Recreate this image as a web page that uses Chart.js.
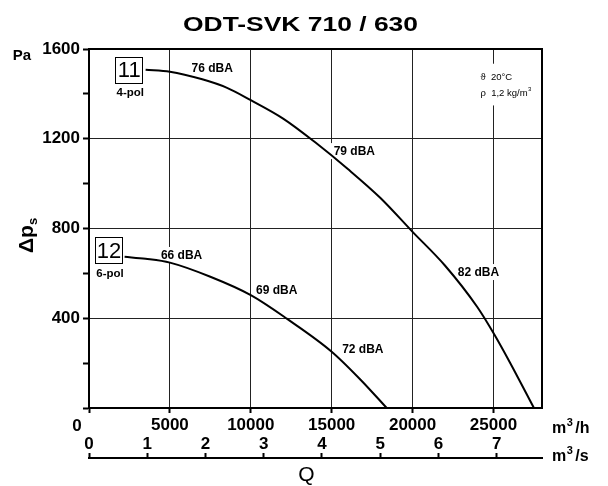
<!DOCTYPE html>
<html>
<head>
<meta charset="utf-8">
<script src="https://cdn.jsdelivr.net/npm/chart.js@4.4.1/dist/chart.umd.min.js"></script>
<style>
html,body{margin:0;padding:0;background:#fff;}
canvas{display:block;}
</style>
</head>
<body>
<canvas id="c" width="608" height="486"></canvas>
<script>
// ---- data ----
const titleText = 'ODT-SVK 710 / 630';
const q11 = [3500, 5000, 7000, 8500, 10000, 12000, 14000, 16000, 18000, 20000, 22000, 24000, 25000, 26000, 27500];
const p11 = [1508, 1499, 1465, 1428, 1372, 1290, 1183, 1065, 937, 785, 635, 450, 334, 205, 0];
const q12 = [2200, 3500, 5000, 7500, 10000, 12250, 15000, 16800, 18400];
const p12 = [674, 665, 648, 585, 503, 397, 251, 125, 0];
const xTickValues = [0, 5000, 10000, 15000, 20000, 25000];
const xsTickValues = [0, 1, 2, 3, 4, 5, 6, 7];
const yTickValues = [0, 200, 400, 600, 800, 1000, 1200, 1400, 1600];
const yLabelValues = [400, 800, 1200, 1600];
const dbaText = ['76 dBA', '79 dBA', '82 dBA', '66 dBA', '69 dBA', '72 dBA'];
const dbaQ = [7611, 16399, 24072, 5724, 11603, 16924];
const dbaP = [1515, 1145, 606, 682, 526, 263];
const curveTag = ['11', '12'];
const curvePole = ['4-pol', '6-pol'];
const curveTagQ = [2488, 1238];
const curveTagP = [1506, 702];
const noteLines = ['ϑ  20°C', 'ρ  1,2 kg/m'];
const noteQ = 24196;
const noteP = [1472, 1402];
const qMax = 28000;
const pMax = 1600;

const F = "'Liberation Sans', Arial, Helvetica, sans-serif";

const decor = {
  id: 'decor',
  beforeDatasetsDraw(chart) {
    const {ctx, scales} = chart;
    const x = scales.x, y = scales.y;
    ctx.save();
    // dBA labels with white background
    ctx.font = 'bold 12px ' + F;
    ctx.textAlign = 'center';
    ctx.textBaseline = 'middle';
    dbaText.forEach((t, i) => {
      const px = x.getPixelForValue(dbaQ[i]);
      const py = y.getPixelForValue(dbaP[i]);
      const w = ctx.measureText(t).width;
      ctx.fillStyle = '#fff';
      ctx.fillRect(px - w / 2 - 3, py - 8, w + 6, 16);
      ctx.fillStyle = '#000';
      ctx.fillText(t, px, py + 0.5);
    });
    // note box
    const nx = x.getPixelForValue(noteQ);
    const ny1 = y.getPixelForValue(noteP[0]);
    const ny2 = y.getPixelForValue(noteP[1]);
    ctx.fillStyle = '#fff';
    ctx.fillRect(nx - 6, ny1 - 14, 62, ny2 - ny1 + 26);
    ctx.fillStyle = '#000';
    ctx.textAlign = 'left';
    ctx.font = '9.5px ' + F;
    ctx.fillText(noteLines[0], nx, ny1);
    ctx.fillText(noteLines[1], nx, ny2);
    const w2 = ctx.measureText(noteLines[1]).width;
    ctx.font = '6px ' + F;
    ctx.fillText('3', nx + w2 + 0.5, ny2 - 4);
    // curve tags
    curveTag.forEach((t, i) => {
      const cx = x.getPixelForValue(curveTagQ[i]);
      const cy = y.getPixelForValue(curveTagP[i]);
      ctx.fillStyle = '#fff';
      ctx.fillRect(cx - 14, cy - 13.5, 28, 27);
      ctx.strokeStyle = '#000';
      ctx.lineWidth = 1;
      ctx.strokeRect(Math.round(cx - 14) + 0.5, Math.round(cy - 13.5) + 0.5, 27, 26);
      ctx.fillStyle = '#000';
      ctx.font = '22px ' + F;
      ctx.textAlign = 'center';
      ctx.textBaseline = 'middle';
      ctx.fillText(t, cx, cy + 1);
      ctx.font = 'bold 11.5px ' + F;
      ctx.fillText(curvePole[i], cx + 1, cy + 23);
    });
    // top and right frame
    const a = chart.chartArea;
    ctx.strokeStyle = '#000';
    ctx.lineWidth = 2;
    ctx.beginPath();
    ctx.moveTo(a.left - 1, a.top);
    ctx.lineTo(a.right, a.top);
    ctx.lineTo(a.right, a.bottom);
    ctx.stroke();
    ctx.restore();
  },
  afterDraw(chart) {
    const {ctx, scales} = chart;
    const x = scales.x, xs = scales.xs, y = scales.y;
    ctx.save();
    ctx.fillStyle = '#000';
    // title
    ctx.font = 'bold 21px ' + F;
    ctx.textAlign = 'center';
    ctx.textBaseline = 'middle';
    const tw = ctx.measureText(titleText).width;
    const sx = 235 / tw;
    ctx.save();
    ctx.translate(300.5, 25);
    ctx.scale(sx, 1);
    ctx.fillText(titleText, 0, 0);
    ctx.restore();
    // Pa
    ctx.font = 'bold 15px ' + F;
    ctx.fillText('Pa', 22, y.getPixelForValue(pMax) + 7);
    // x "0" label (shifted left)
    ctx.font = 'bold 17px ' + F;
    ctx.fillText('0', x.getPixelForValue(0) - 12, 426);
    // delta p_s
    ctx.save();
    ctx.translate(33, 253);
    ctx.rotate(-Math.PI / 2);
    ctx.textAlign = 'left';
    ctx.textBaseline = 'alphabetic';
    ctx.font = 'bold 21px ' + F;
    ctx.fillText('Δp', 0, 0);
    const dw = ctx.measureText('Δp').width;
    ctx.font = 'bold 13px ' + F;
    ctx.fillText('s', dw, 4);
    ctx.restore();
    // units
    function unit(px, base, tail) {
      ctx.textAlign = 'left';
      ctx.textBaseline = 'alphabetic';
      ctx.font = 'bold 16px ' + F;
      ctx.fillText('m', px, base);
      let w = ctx.measureText('m').width;
      ctx.font = 'bold 11px ' + F;
      ctx.fillText('3', px + w + 0.5, base - 7);
      w += ctx.measureText('3').width + 3;
      ctx.font = 'bold 16px ' + F;
      ctx.fillText(tail, px + w, base);
    }
    unit(x.right + 10, 433, '/h');
    unit(xs.right + 10, 461, '/s');
    // Q
    ctx.font = '21px ' + F;
    ctx.textAlign = 'center';
    ctx.textBaseline = 'middle';
    ctx.fillText('Q', 306.5, 475);
    ctx.restore();
  }
};

const ds = (qs, ps) => qs.map((q, i) => ({x: q, y: ps[i]}));

new Chart(document.getElementById('c'), {
  type: 'scatter',
  data: {
    datasets: [
      {label: '11', data: ds(q11, p11), showLine: true, borderColor: '#000', borderWidth: 2, pointRadius: 0, cubicInterpolationMode: 'monotone', xAxisID: 'x', yAxisID: 'y'},
      {label: '12', data: ds(q12, p12), showLine: true, borderColor: '#000', borderWidth: 2, pointRadius: 0, cubicInterpolationMode: 'monotone', xAxisID: 'x', yAxisID: 'y'}
    ]
  },
  options: {
    responsive: false,
    animation: false,
    devicePixelRatio: 1,
    layout: {padding: {top: 49, right: 66, bottom: 0, left: 0}},
    plugins: {legend: {display: false}, title: {display: false}, tooltip: {enabled: false}},
    scales: {
      x: {
        type: 'linear', axis: 'x', position: 'bottom', weight: 0,
        min: 0, max: qMax,
        afterBuildTicks: s => { s.ticks = xTickValues.map(v => ({value: v})); },
        afterFit: s => { s.height = 50; },
        grid: {
          color: c => (c.tick && c.tick.value > 0) ? '#222' : 'rgba(0,0,0,0)',
          lineWidth: 1, drawTicks: true, tickLength: 5, tickColor: '#000', tickWidth: 2
        },
        border: {display: true, color: '#000', width: 2},
        ticks: {
          callback: v => v === 0 ? '' : String(v),
          font: {family: F, size: 17, weight: 'bold'}, color: '#000',
          padding: 2, maxRotation: 0, minRotation: 0, autoSkip: false
        }
      },
      xs: {
        type: 'linear', axis: 'x', position: 'bottom', weight: 1,
        min: 0, max: qMax / 3600,
        afterBuildTicks: s => { s.ticks = xsTickValues.map(v => ({value: v})); },
        afterFit: s => { s.height = 28; },
        grid: {drawOnChartArea: false, drawTicks: true, tickLength: -5, tickColor: '#000', tickWidth: 2},
        border: {display: true, color: '#000', width: 2},
        ticks: {
          callback: v => String(v),
          font: {family: F, size: 17, weight: 'bold'}, color: '#000',
          mirror: true, padding: 3, maxRotation: 0, minRotation: 0, autoSkip: false
        }
      },
      y: {
        type: 'linear', position: 'left',
        min: 0, max: pMax,
        afterBuildTicks: s => { s.ticks = yTickValues.map(v => ({value: v})); },
        afterFit: s => { s.width = 89; },
        grid: {
          color: c => (c.tick && c.tick.value > 0 && c.tick.value < pMax && c.tick.value % 400 === 0) ? '#222' : 'rgba(0,0,0,0)',
          lineWidth: 1, drawTicks: true, tickLength: 6, tickColor: '#000', tickWidth: 2
        },
        border: {display: true, color: '#000', width: 2},
        ticks: {
          callback: v => yLabelValues.includes(v) ? String(v) : '',
          font: {family: F, size: 17, weight: 'bold'}, color: '#000',
          padding: 3, autoSkip: false
        }
      }
    }
  },
  plugins: [decor]
});
</script>
</body>
</html>
